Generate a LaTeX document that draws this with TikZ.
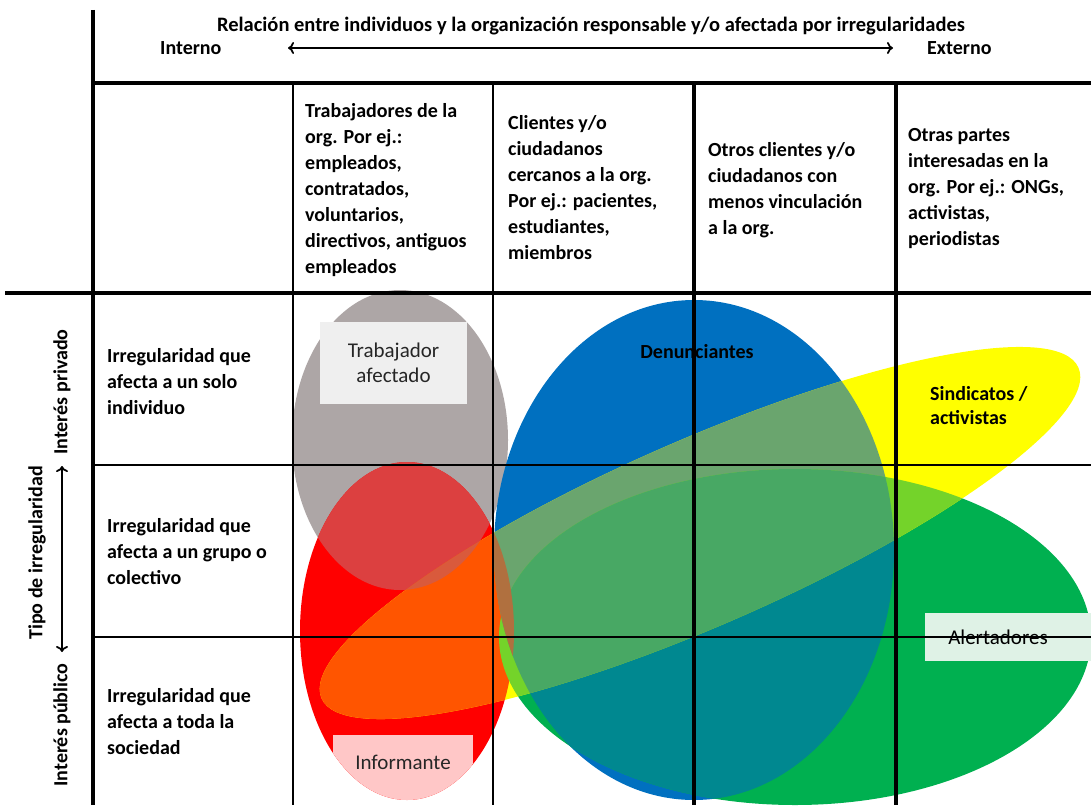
\documentclass[tikz,border=0pt]{standalone}
\usepackage{fontspec}
\setmainfont{Carlito}
\usetikzlibrary{arrows.meta}

\definecolor{cGris}{HTML}{ADA6A6}
\definecolor{cRojo}{HTML}{FF0000}
\definecolor{cAzul}{HTML}{0070C0}
\definecolor{cVerde}{HTML}{00B050}
\definecolor{cAmarillo}{HTML}{FFFF00}
\definecolor{cGrisRojo}{HTML}{DC4040}
\definecolor{cNaranja}{HTML}{FF5500}
\definecolor{cMarron}{HTML}{D95A3C}
\definecolor{cRojoAzul}{HTML}{B0703F}
\definecolor{cAzulVerde}{HTML}{008890}
\definecolor{cAzulAma}{HTML}{6AA56E}
\definecolor{cVerdeAma}{HTML}{74D32A}
\definecolor{cTriple}{HTML}{48A864}
\definecolor{cCajaGris}{HTML}{EFEFEF}
\definecolor{cRosa}{HTML}{FFC7C7}
\definecolor{cCajaVerde}{HTML}{DFF2E6}

\newcommand{\elipGris}{(400,440) ellipse [x radius=108, y radius=150]}
\newcommand{\elipRoja}{(407,631) ellipse [x radius=107, y radius=169]}
\newcommand{\elipAzul}{(694,550) ellipse [x radius=200, y radius=250]}
\newcommand{\elipVerde}{(795,637) ellipse [x radius=296, y radius=168]}
\newcommand{\elipAmarilla}{[rotate around={23.6:(700,533)}] (700,533) ellipse [x radius=413, y radius=93]}

\begin{document}
\begin{tikzpicture}[
        x=1pt, y=-1pt,
        celda/.style={anchor=north west, align=left, inner sep=0pt, font=\fontsize{20}{26}\selectfont\bfseries},
        eje/.style={inner sep=0pt, font=\fontsize{20}{24}\selectfont\bfseries},
        vert/.style={eje, rotate=90},
        etiqueta/.style={inner sep=0pt, align=center, text=black!85, font=\fontsize{21}{25}\selectfont},
        linea gruesa/.style={line width=3.5pt},
        linea media/.style={line width=2pt},
        linea fina/.style={line width=1.5pt},
        flecha/.style={{To[length=6pt,width=12pt]}-{To[length=6pt,width=12pt]}, line width=1.7pt},
    ]
    \useasboundingbox (0,0) rectangle (1091,805);

    % elipses
    \fill[cGris] \elipGris;
    \fill[cRojo] \elipRoja;
    \fill[cAzul] \elipAzul;
    \fill[cVerde] \elipVerde;
    \fill[cAmarillo] \elipAmarilla;

    % zonas comunes
    \begin{scope} \clip \elipGris; \fill[cGrisRojo] \elipRoja; \end{scope}
    \begin{scope} \clip \elipRoja; \fill[cRojoAzul] \elipAzul; \fill[cRojoAzul] \elipVerde; \end{scope}
    \begin{scope} \clip \elipRoja; \fill[cNaranja] \elipAmarilla; \end{scope}
    \begin{scope} \clip \elipGris; \clip \elipRoja; \fill[cMarron] \elipAmarilla; \end{scope}
    \begin{scope} \clip \elipAzul; \fill[cAzulVerde] \elipVerde; \end{scope}
    \begin{scope} \clip \elipAzul; \fill[cAzulAma] \elipAmarilla; \end{scope}
    \begin{scope} \clip \elipVerde; \fill[cVerdeAma] \elipAmarilla; \end{scope}
    \begin{scope} \clip \elipAzul; \clip \elipVerde; \fill[cTriple] \elipAmarilla; \end{scope}
    \begin{scope} \clip \elipRoja; \clip \elipAzul; \fill[cRojoAzul] \elipAmarilla; \end{scope}

    % etiquetas de los grupos
    \node[etiqueta, fill=cCajaGris, minimum width=147pt, minimum height=82pt](trab) at (393.5,363) {Trabajador\\afectado};
    \begin{scope} \clip \elipRoja; \fill[cRosa] (333,735) rectangle (473,805); \end{scope}
    \node[etiqueta](inf) at (403,762) {Informante};
    \fill[cCajaVerde] (925,613) rectangle (1091,661);
    \node[etiqueta, text=black](alert) at (998,637) {Alertadores};
    \node[eje, anchor=base](den) at (697,358) {Denunciantes};
    \node[celda, font=\fontsize{20}{24}\selectfont\bfseries](sind) at (930,386) {Sindicatos /\\activistas};

    % cabecera
    \node[eje, anchor=base, font=\fontsize{20.5}{24}\selectfont\bfseries](tit) at (591,32) {Relación entre individuos y la organización responsable y/o afectada por irregularidades};
    \node[eje, anchor=base west](int) at (160,55) {Interno};
    \node[eje, anchor=base west](ext) at (927,55) {Externo};
    \coordinate (fIzq) at (288,48);
    \coordinate (fDer) at (893,48);
    \draw[flecha] (fIzq) -- (fDer);

    \node[celda](col1) at (305,103) {Trabajadores de la\\org. Por ej.:\\empleados,\\contratados,\\voluntarios,\\directivos, antiguos\\empleados};
    \node[celda](col2) at (508,115) {Clientes y/o\\ciudadanos\\cercanos a la org.\\Por ej.: pacientes,\\estudiantes,\\miembros};
    \node[celda](col3) at (708,142) {Otros clientes y/o\\ciudadanos con\\menos vinculación\\a la org.};
    \node[celda](col4) at (908,128) {Otras partes\\interesadas en la\\org. Por ej.: ONGs,\\activistas,\\periodistas};

    \node[celda](fil1) at (107,348) {Irregularidad que\\afecta a un solo\\individuo};
    \node[celda](fil2) at (107,518) {Irregularidad que\\afecta a un grupo o\\colectivo};
    \node[celda](fil3) at (107,688) {Irregularidad que\\afecta a toda la\\sociedad};

    \node[vert](tipo) at (37,553) {Tipo de irregularidad};
    \node[vert](priv) at (62,392) {Interés privado};
    \node[vert](pub) at (62,725) {Interés público};
    \coordinate (vAbajo) at (62,652);
    \coordinate (vArriba) at (62,466);
    \draw[flecha] (vAbajo) -- (vArriba);

    % rejilla
    \draw[linea gruesa] (93,10) -- (93,805);
    \draw[linea gruesa] (93,83) -- (1091,83);
    \draw[linea gruesa] (5,293) -- (1091,293);
    \draw[linea fina] (293,83) -- (293,805);
    \draw[linea media] (493,83) -- (493,805);
    \draw[linea gruesa] (694,83) -- (694,805);
    \draw[linea gruesa] (896,83) -- (896,805);
    \draw[linea media] (93,465) -- (1091,465);
    \draw[linea media] (93,637) -- (1091,637);
\end{tikzpicture}
\end{document}
